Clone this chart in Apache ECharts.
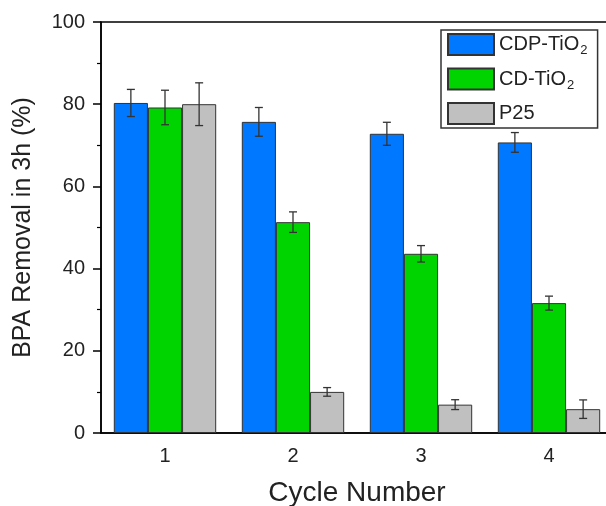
<!DOCTYPE html>
<html>
<head>
<meta charset="utf-8">
<script src="https://cdn.jsdelivr.net/npm/echarts@6/dist/echarts.min.js"></script>
<style>
html,body{margin:0;padding:0;background:#fff;}
#chart{width:606px;height:506px;}
</style>
</head>
<body>
<div id="chart"></div>
<script>
const categories = ['1', '2', '3', '4'];
const seriesNames = ['CDP-TiO2', 'CD-TiO2', 'P25'];
const cdpValues = [80.3, 75.7, 72.8, 70.7];
const cdpErrors = [3.3, 3.5, 2.8, 2.4];
const cdValues = [79.2, 51.3, 43.6, 31.6];
const cdErrors = [4.2, 2.5, 2.0, 1.7];
const p25Values = [80.0, 10.0, 6.9, 5.8];
const p25Errors = [5.2, 1.05, 1.2, 2.25];
const yTicks = [0, 20, 40, 60, 80, 100];

const allValues = [cdpValues, cdValues, p25Values];
const allErrors = [cdpErrors, cdErrors, p25Errors];
const colors = ['#0078FF', '#00D400', '#C0C0C0'];

const errData = [];
allValues.forEach((vals, s) => {
  vals.forEach((v, i) => {
    errData.push([i, v - allErrors[s][i], v + allErrors[s][i], s]);
  });
});

const chart = echarts.init(document.getElementById('chart'), null, {renderer: 'canvas'});
const font = 'Liberation Sans, Arial, sans-serif';

const barSeries = seriesNames.map((name, s) => ({
  name: name,
  type: 'bar',
  data: allValues[s],
  barGap: '0%',
  barCategoryGap: '20%',
  itemStyle: {color: colors[s], borderColor: '#333', borderWidth: 1},
  emphasis: {disabled: true},
  z: 2
}));

const errSeries = {
  type: 'custom',
  data: errData,
  encode: {x: 0, y: [1, 2]},
  z: 5,
  silent: true,
  renderItem: function (params, api) {
    const idx = api.value(0);
    const lo = api.value(1);
    const hi = api.value(2);
    const s = api.value(3);
    const band = api.size([1, 0])[0];
    const bw = band * 0.8 / 3;
    const pLo = api.coord([idx, lo]);
    const pHi = api.coord([idx, hi]);
    const cx = pLo[0] + (s - 1) * bw;
    const cap = 4;
    const style = {stroke: '#333', lineWidth: 1.3};
    return {
      type: 'group',
      children: [
        {type: 'line', shape: {x1: cx, y1: pLo[1], x2: cx, y2: pHi[1]}, style: style},
        {type: 'line', shape: {x1: cx - cap, y1: pLo[1], x2: cx + cap, y2: pLo[1]}, style: style},
        {type: 'line', shape: {x1: cx - cap, y1: pHi[1], x2: cx + cap, y2: pHi[1]}, style: style}
      ]
    };
  }
};

const legendLabels = {
  'CDP-TiO2': '{n|CDP-TiO}{s|2}',
  'CD-TiO2': '{n|CD-TiO}{s|2}',
  'P25': '{n|P25}'
};

chart.setOption({
  animation: false,
  backgroundColor: '#fff',
  textStyle: {fontFamily: font},
  grid: {left: 101, top: 22, right: -7, bottom: 73, show: true, borderColor: '#000', borderWidth: 1.5, containLabel: false, outerBoundsMode: 'none'},
  legend: {
    data: seriesNames,
    orient: 'vertical',
    left: 441,
    top: 30,
    icon: 'rect',
    itemWidth: 46,
    itemHeight: 21,
    itemGap: 10.5,
    padding: [3, 10, 3, 6],
    borderColor: '#333',
    borderWidth: 1.5,
    backgroundColor: '#fff',
    selectedMode: false,
    formatter: function (name) { return legendLabels[name]; },
    textStyle: {
      fontFamily: font,
      rich: {
        n: {fontSize: 20, color: '#222', fontFamily: font},
        s: {fontSize: 13, color: '#222', fontFamily: font, verticalAlign: 'bottom', padding: [12, 0, 0, 1]}
      }
    }
  },
  xAxis: {
    type: 'category',
    data: categories,
    name: 'Cycle Number',
    nameLocation: 'middle',
    nameGap: 46,
    nameTextStyle: {fontSize: 28, color: '#222', fontFamily: font},
    axisLine: {lineStyle: {color: '#000', width: 1.5}},
    axisTick: {alignWithLabel: true, length: 8, lineStyle: {color: '#000', width: 1.5}},
    axisLabel: {fontSize: 20, color: '#222', margin: 13, fontFamily: font},
    splitLine: {show: false}
  },
  yAxis: {
    type: 'value',
    min: yTicks[0],
    max: yTicks[yTicks.length - 1],
    interval: 20,
    name: 'BPA Removal in 3h (%)',
    nameLocation: 'middle',
    nameRotate: 90,
    nameGap: 65,
    nameTextStyle: {fontSize: 25, color: '#222', fontFamily: font},
    axisLine: {show: true, lineStyle: {color: '#000', width: 1.5}},
    axisTick: {show: true, length: 8, lineStyle: {color: '#000', width: 1.5}},
    minorTick: {show: true, splitNumber: 2, length: 4, lineStyle: {color: '#000', width: 1.2}},
    axisLabel: {fontSize: 20, color: '#222', margin: 16, fontFamily: font},
    splitLine: {show: false}
  },
  series: barSeries.concat([errSeries])
});
</script>
</body>
</html>
